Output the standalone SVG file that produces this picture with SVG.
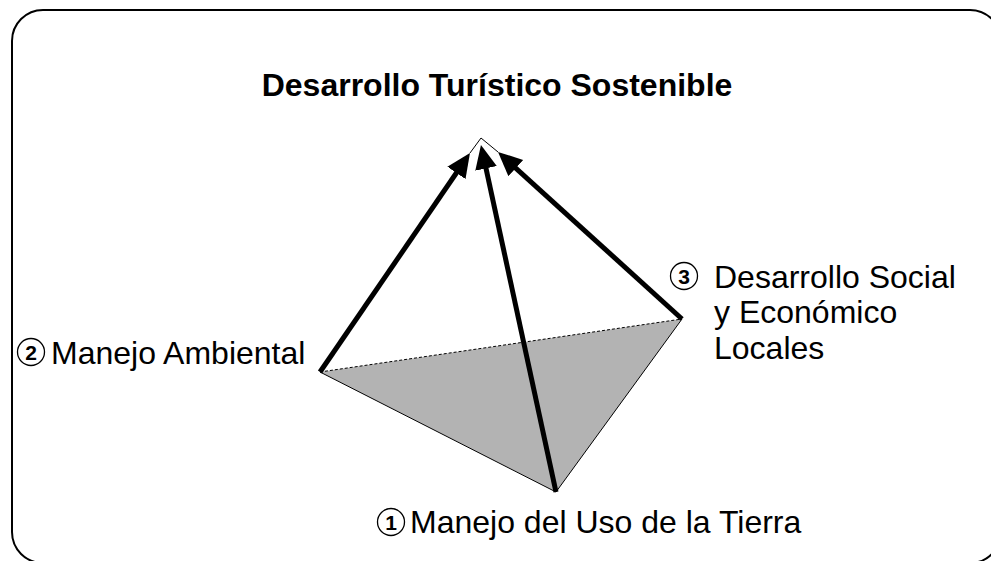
<svg xmlns="http://www.w3.org/2000/svg" width="991" height="561" viewBox="0 0 991 561">
<style>
.lbl{font-family:"Liberation Sans",Arial,sans-serif;font-size:32px;fill:#000}
.num{font-family:"Liberation Sans",Arial,sans-serif;font-size:21px;font-weight:bold;fill:#000;text-anchor:middle}
.ring{fill:none;stroke:#000;stroke-width:1.3}
.arrow{stroke:#000;stroke-width:5;fill:none;marker-end:url(#ah)}
.thin{stroke:#000;stroke-width:1;fill:none}
</style>
<defs>
<marker id="ah" markerUnits="userSpaceOnUse" markerWidth="25" markerHeight="23" refX="12" refY="11" orient="auto">
<path d="M0,0 L24,11 L0,22 z" fill="#000"/>
</marker>
</defs>
<rect x="12" y="10" width="989" height="553" rx="31" ry="31" fill="#fff" stroke="#000" stroke-width="2"/>
<text x="497" y="96" font-family="Liberation Sans,Arial,sans-serif" font-size="32" font-weight="bold" text-anchor="middle">Desarrollo Turístico Sostenible</text>
<g id="base">
<polygon points="320,372 682,319 556,492" fill="#b3b3b3"/>
<line x1="320" y1="372" x2="682" y2="319" stroke="#000" stroke-width="1" stroke-dasharray="3,2"/>
<polyline points="320,372 556,492 682,319" class="thin"/>
</g>
<g id="connectors">
<polyline points="470,153 481,138 498,152" class="thin"/>
<line x1="320" y1="372" x2="463.2" y2="163" class="arrow"/>
<line x1="556" y1="492" x2="483.5" y2="156.7" class="arrow"/>
<line x1="682" y1="319" x2="506.9" y2="160" class="arrow"/>
</g>
<g id="node2">
<circle cx="31" cy="352" r="13.5" class="ring"/>
<text x="31" y="359.5" class="num">2</text>
<text x="51" y="364" class="lbl">Manejo Ambiental</text>
</g>
<g id="node3">
<circle cx="684" cy="276" r="13.5" class="ring"/>
<text x="684" y="283.5" class="num">3</text>
<text x="714" y="288" class="lbl">Desarrollo Social</text>
<text x="714" y="323" class="lbl">y Económico</text>
<text x="714" y="359" class="lbl">Locales</text>
</g>
<g id="node1">
<circle cx="391" cy="522" r="13.5" class="ring"/>
<text x="391" y="529.5" class="num">1</text>
<text x="410" y="533" class="lbl">Manejo del Uso de la Tierra</text>
</g>
</svg>
